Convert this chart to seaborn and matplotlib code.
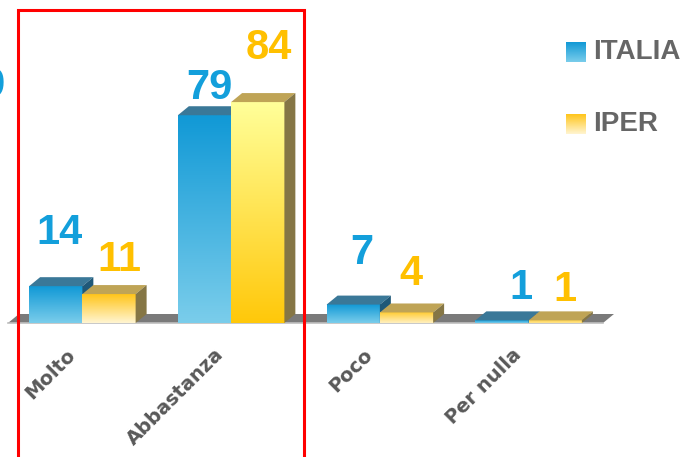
import numpy as np
import pandas as pd
import seaborn as sns
import matplotlib.pyplot as plt
from matplotlib.patches import Polygon, Rectangle
from matplotlib.colors import to_rgb
from matplotlib.transforms import offset_copy

# data
categories = ['Molto', 'Abbastanza', 'Poco', 'Per nulla']
italia = [14, 79, 7, 1]
iper = [11, 84, 4, 1]
series = ['ITALIA', 'IPER']

df = pd.DataFrame({
    'categoria': categories * 2,
    'valore': italia + iper,
    'serie': [series[0]] * len(categories) + [series[1]] * len(categories),
})

# colours (bottom, top) of each front face gradient
blue_txt = '#139FDB'
gold_txt = '#FFC000'
italia_grad = [('#7ACDEB', '#1199D6')] * 4
iper_grad = [('#FFF5D2', '#FFC51A'), ('#FFC80A', '#FFFF99'),
             ('#FFF0C0', '#FFCC33'), ('#FFE590', '#FFD24A')]
top_col = ['#3A7898', '#BFA456']
side_col = ['#1F5878', '#857645']

# label placement (offsets from bar top / bar centre, data units)
lab_dy = [[20.2, 10.4, 19.6, 12.3], [13.0, 20.6, 14.6, 11.5]]
lab_dx = [[0.027, 0.033, 0.06, 0.127], [0.067, 0.074, 0.033, 0.067]]

sns.set_style('white')
fig = plt.figure(figsize=(6.86, 4.57), dpi=100)
ax = fig.add_axes([8 / 686, (457 - 323) / 457, 595 / 686, 323 / 457])

sns.barplot(data=df, x='categoria', y='valore', hue='serie', ax=ax,
            width=0.716, errorbar=None, legend=False, saturation=1,
            palette=['#1199D6', '#FFC000'])

ymax = 323 / 2.63
dx = 11 / 149
dy = 9 / 2.63


def gradient(bottom, top):
    t = np.linspace(0, 1, 128).reshape(-1, 1, 1)
    b = np.array(to_rgb(bottom)).reshape(1, 1, 3)
    u = np.array(to_rgb(top)).reshape(1, 1, 3)
    return b * (1 - t) + u * t


# floor
floor = Polygon([(-0.5, 0), (-0.5 + dx, dy), (3.5 + dx, dy), (3.5, 0)],
                closed=True, facecolor='#7A7A7A', edgecolor='none',
                zorder=1, clip_on=False)
ax.add_patch(floor)

grads = [italia_grad, iper_grad]
for s, cont in enumerate(ax.containers):
    z = 3 + s
    for i, bar in enumerate(cont):
        x0 = bar.get_x()
        w = bar.get_width()
        h = bar.get_height()
        bar.set_facecolor('none')
        bar.set_edgecolor('none')
        ax.imshow(gradient(*grads[s][i]), extent=[x0, x0 + w, 0, h],
                  origin='lower', aspect='auto', interpolation='bilinear',
                  zorder=z)
        ax.add_patch(Polygon([(x0, h), (x0 + dx, h + dy), (x0 + w + dx, h + dy), (x0 + w, h)],
                             closed=True, facecolor=top_col[s], edgecolor='none',
                             zorder=z, clip_on=False))
        ax.add_patch(Polygon([(x0 + w, 0), (x0 + w + dx, dy), (x0 + w + dx, h + dy), (x0 + w, h)],
                             closed=True, facecolor=side_col[s], edgecolor='none',
                             zorder=z, clip_on=False))
        ax.text(x0 + w / 2 + lab_dx[s][i], h + lab_dy[s][i], str(int(h)),
                ha='center', va='center', fontsize=30, fontweight='bold',
                color=[blue_txt, gold_txt][s], family='Liberation Sans', zorder=6)

ax.set_xlim(-0.5, 3.5)
ax.set_ylim(0, ymax)

# axes styling
for sp in ['top', 'right', 'left']:
    ax.spines[sp].set_visible(False)
ax.spines['bottom'].set_color('#BFBFBF')
ax.spines['bottom'].set_linewidth(1.2)
ax.set_yticks([])
ax.set_xticks(range(len(categories)))
ax.set_xticklabels([])
ax.tick_params(axis='x', which='major', length=0)
ax.set_xticks([-0.5, 0.5, 1.5, 2.5, 3.5], minor=True)
ax.tick_params(axis='x', which='minor', length=5, width=1, color='#8C8C8C', direction='out')
ax.set_xlabel('')
ax.set_ylabel('')

# category labels
lab_tr = offset_copy(ax.transData, fig=fig, x=-17, y=-22, units='dots')
for i, c in enumerate(categories):
    ax.text(i, 0, c, rotation=45, ha='right', va='top', rotation_mode='anchor',
            transform=lab_tr, fontsize=14, fontweight='bold', color='#595959',
            family='DejaVu Sans', clip_on=False)

# legend
leg_y = [52, 124]
for s, name in enumerate(series):
    lax = fig.add_axes([566 / 686, 1 - (leg_y[s] + 10) / 457, 20 / 686, 20 / 457])
    b, t = (italia_grad[0] if s == 0 else ('#FFF5D2', '#FFC51A'))
    lax.imshow(gradient(b, t), origin='lower', aspect='auto', extent=[0, 1, 0, 1])
    lax.axis('off')
    fig.text(593 / 686, 1 - leg_y[s] / 457, name, ha='left', va='center',
             fontsize=20, fontweight='bold', color='#666666', family='Liberation Sans')

# cut-off label at left edge (the reference shows it clipped)
fig.text(5 / 686, 1 - 86 / 457, '9', ha='right', va='center', fontsize=30,
         fontweight='bold', color=blue_txt, family='Liberation Sans')

# red highlight box
fig.patches.append(Rectangle((18 / 686, -0.05), (304 - 18) / 686, 1.05 - 10 / 457,
                             transform=fig.transFigure, fill=False,
                             edgecolor='#FF0000', linewidth=2.2, zorder=10))

plt.savefig('out.png', dpi=100)
